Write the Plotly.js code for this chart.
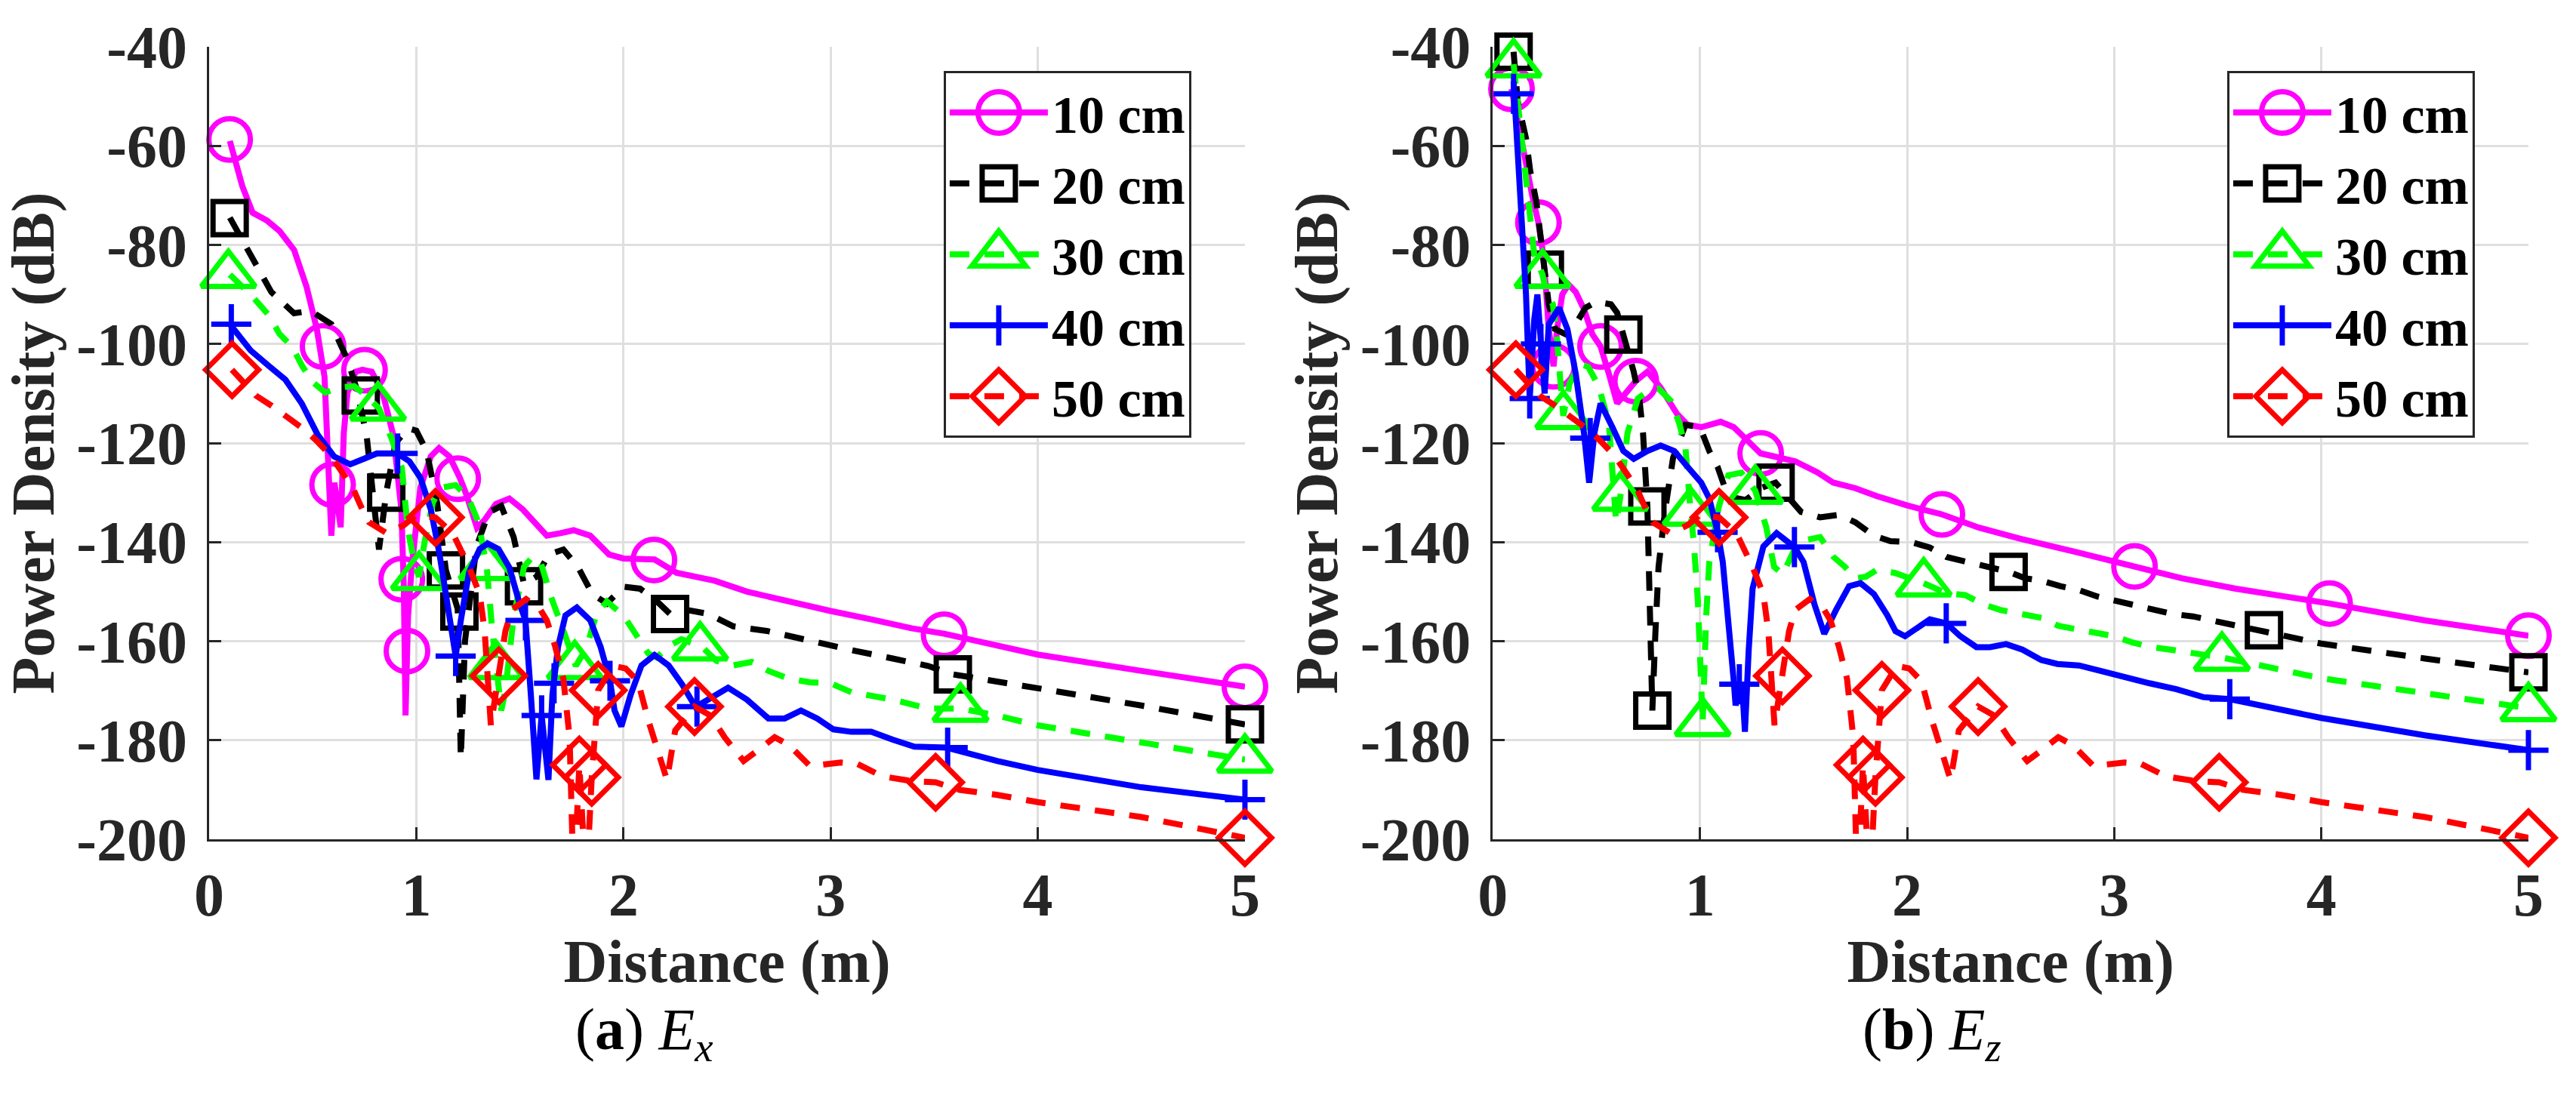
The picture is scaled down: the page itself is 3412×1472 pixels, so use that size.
<!DOCTYPE html>
<html>
<head>
<meta charset="utf-8">
<script src="https://cdn.plot.ly/plotly-3.0.1.min.js"></script>
<style>
  html, body { margin: 0; padding: 0; background: #fff; }
  #chart { width: 3412px; height: 1472px; }
</style>
</head>
<body>
<div id="chart"></div>
<script>
// axis ticks
const xTickVals = [0, 1, 2, 3, 4, 5];
const xTickText = ['0', '1', '2', '3', '4', '5'];
const yTickVals = [-40, -60, -80, -100, -120, -140, -160, -180, -200];
const yTickText = ['-40', '-60', '-80', '-100', '-120', '-140', '-160', '-180', '-200'];
const seriesNames = ['10 cm', '20 cm', '30 cm', '40 cm', '50 cm'];

// (a) Ex : curves as [distance, dB]
const exLine10 = [[0.1,-59],[0.16,-68.1],[0.21,-73.5],[0.28,-75.1],[0.34,-77.2],[0.41,-81],[0.47,-88.4],[0.52,-97],[0.557,-106.6],[0.577,-122.7],[0.59,-138.7],[0.605,-128],[0.635,-137],[0.65,-118],[0.668,-109.8],[0.707,-105.6],[0.74,-105.2],[0.785,-105.6],[0.837,-109.8],[0.889,-118.4],[0.928,-133.4],[0.94,-149.4],[0.948,-175],[0.96,-155],[0.98,-144],[1.02,-129],[1.07,-122.7],[1.11,-121],[1.16,-122.7],[1.21,-127],[1.24,-130.2],[1.293,-137.1],[1.33,-135.5],[1.384,-132.3],[1.449,-131.2],[1.514,-133.4],[1.58,-136.6],[1.63,-138.7],[1.697,-138.2],[1.76,-137.6],[1.84,-138.7],[1.93,-142.5],[2.0,-143.3],[2.15,-143.5],[2.257,-146.2],[2.348,-147],[2.44,-147.8],[2.596,-150],[2.8,-152.1],[3.0,-153.9],[3.196,-155.6],[3.39,-157.4],[3.548,-158.5],[3.806,-160.9],[4.0,-162.7],[4.5,-166],[5.0,-169.2]];
const exMark10 = [[0.099,-58.7],[0.55,-100.5],[0.596,-128.4],[0.75,-105.3],[0.93,-147.5],[0.955,-162],[1.2,-127.2],[2.147,-143.6],[3.548,-158.7],[5,-169.2]];

const exLine20 = [[0.1,-74.5],[0.2,-82],[0.3,-89.5],[0.41,-93.8],[0.49,-93.3],[0.59,-96],[0.67,-103.4],[0.71,-108.8],[0.76,-118.4],[0.79,-130],[0.82,-141.5],[0.855,-130],[0.9,-120],[0.96,-117],[1.0,-117.5],[1.05,-121.6],[1.1,-132],[1.143,-145.7],[1.2,-153.5],[1.215,-183.6],[1.235,-160],[1.29,-141],[1.35,-134],[1.41,-132.7],[1.47,-139],[1.52,-148.5],[1.58,-147],[1.64,-142.5],[1.71,-141.5],[1.78,-145],[1.85,-150.5],[1.92,-152.4],[2.0,-149],[2.08,-149.4],[2.15,-151.5],[2.225,-154.5],[2.32,-153.8],[2.41,-154.5],[2.53,-157],[2.7,-158],[2.9,-160],[3.1,-161.8],[3.3,-163.5],[3.47,-165],[3.59,-166.7],[3.8,-168],[4.0,-169.5],[4.5,-173],[5.0,-176.8]];
const exMark20 = [[0.099,-74.6],[0.732,-110.4],[0.855,-130],[1.143,-145.7],[1.208,-154],[1.52,-148.9],[2.225,-154.5],[3.59,-166.7],[5,-176.8]];

const exLine30 = [[0.1,-86],[0.2,-90],[0.29,-94.3],[0.34,-98],[0.4,-100.5],[0.45,-104.5],[0.5,-107.7],[0.56,-109.8],[0.63,-108.8],[0.7,-108.5],[0.76,-110.5],[0.82,-113],[0.88,-119],[0.93,-125],[0.96,-137.6],[0.99,-144],[1.013,-147],[1.04,-140],[1.08,-132],[1.12,-129],[1.19,-128.5],[1.25,-131],[1.3,-136],[1.34,-145],[1.365,-157],[1.385,-165],[1.41,-174],[1.43,-170],[1.47,-155],[1.52,-145],[1.56,-143],[1.6,-144],[1.65,-151],[1.72,-159],[1.77,-165],[1.82,-161.5],[1.87,-154.5],[1.92,-152],[2.0,-154.8],[2.05,-158],[2.12,-162.5],[2.16,-163.3],[2.22,-161],[2.28,-159.6],[2.38,-161.2],[2.45,-164],[2.53,-164.9],[2.62,-164.2],[2.7,-166],[2.8,-167.6],[2.9,-168.3],[3.0,-168.5],[3.1,-170.3],[3.3,-171.8],[3.47,-173.6],[3.63,-173.6],[3.8,-175],[4.0,-177],[4.5,-180.5],[5.0,-183.9]];
const exMark30 = [[0.093,-86],[0.815,-112.8],[1.013,-147],[1.34,-145],[1.385,-165],[1.765,-165],[2.37,-161.2],[3.627,-173.6],[5,-183.9]];

const exLine40 = [[0.1,-96],[0.2,-101.3],[0.29,-104.5],[0.368,-107.2],[0.447,-112],[0.525,-118.4],[0.603,-122.7],[0.681,-124.3],[0.746,-123.2],[0.81,-122.1],[0.909,-122.1],[0.967,-123.7],[1.02,-127],[1.07,-133.4],[1.11,-141.9],[1.163,-154.8],[1.19,-163],[1.215,-155.8],[1.254,-146.2],[1.306,-141.4],[1.345,-140.3],[1.397,-141.4],[1.449,-145.1],[1.5,-152.6],[1.527,-155.8],[1.553,-170.8],[1.58,-187.9],[1.605,-175],[1.638,-188],[1.657,-170.8],[1.684,-161.2],[1.72,-154.8],[1.775,-153.2],[1.84,-155.8],[1.89,-161.2],[1.935,-168],[1.957,-174],[1.99,-177.2],[2.035,-170.8],[2.087,-164.9],[2.15,-162.8],[2.218,-164.9],[2.283,-168.7],[2.348,-173.3],[2.413,-171.8],[2.505,-169.4],[2.596,-171.8],[2.7,-175.6],[2.778,-175.6],[2.857,-174],[2.935,-175.6],[3.013,-177.8],[3.1,-178.3],[3.196,-178.3],[3.3,-179.9],[3.404,-181.3],[3.56,-181.5],[3.806,-184.2],[4.0,-186],[4.5,-189.5],[5.0,-192]];
const exMark40 = [[0.107,-96],[0.91,-122.1],[1.19,-163],[1.527,-155.8],[1.605,-175],[1.665,-168.5],[1.935,-168],[2.355,-173.2],[3.565,-181.5],[5,-192]];

// 50 cm curve is the same in both panels
const line50 = [[0.11,-105.2],[0.225,-110.4],[0.303,-112.5],[0.375,-114.7],[0.46,-117.3],[0.518,-119.5],[0.59,-122.7],[0.642,-125.9],[0.694,-129.1],[0.733,-132.8],[0.772,-136],[0.857,-138.2],[0.94,-136.6],[1.0,-134.5],[1.092,-135],[1.176,-138.2],[1.215,-141.4],[1.254,-145],[1.306,-150.5],[1.33,-158],[1.36,-177],[1.398,-167],[1.43,-158],[1.46,-153.7],[1.53,-151.5],[1.6,-153.7],[1.63,-155.8],[1.67,-161],[1.71,-167.6],[1.74,-179.4],[1.76,-210],[1.787,-185],[1.82,-210],[1.847,-187.5],[1.878,-169.9],[1.95,-165],[2.01,-165.5],[2.07,-168.1],[2.12,-176],[2.21,-188],[2.25,-178],[2.343,-173.2],[2.42,-175],[2.49,-179.5],[2.58,-184.2],[2.65,-182],[2.73,-179.4],[2.8,-181],[2.9,-185.2],[3.05,-184.5],[3.13,-184.8],[3.25,-187.3],[3.4,-188.3],[3.507,-188.5],[3.62,-190],[3.8,-191],[4.0,-192.5],[4.5,-195.5],[5.0,-199.7]];
const mark50 = [[0.111,-105.2],[1.092,-135],[1.398,-167],[1.787,-185],[1.847,-187.5],[1.878,-169.9],[2.343,-173.2],[3.507,-188.5],[5,-199.7]];

// (b) Ez
const ezLine10 = [[0.09,-48.5],[0.13,-57],[0.16,-64.5],[0.19,-70],[0.22,-75.5],[0.24,-81],[0.255,-88],[0.27,-97],[0.293,-104.5],[0.31,-97],[0.335,-90],[0.365,-88],[0.4,-89.5],[0.44,-93],[0.48,-98],[0.52,-100.5],[0.56,-106],[0.6,-112],[0.64,-110],[0.69,-107.5],[0.746,-105.6],[0.81,-108.8],[0.889,-114.1],[0.94,-116.3],[1.006,-116.8],[1.1,-115.7],[1.163,-116.8],[1.228,-119.5],[1.293,-122.1],[1.358,-122.7],[1.46,-123.7],[1.566,-125.9],[1.644,-128],[1.749,-129.1],[1.853,-130.7],[2.0,-132.6],[2.168,-134.4],[2.348,-137.1],[2.544,-139.3],[2.804,-141.9],[3.0,-143.9],[3.098,-144.9],[3.326,-147.3],[3.587,-149.4],[3.806,-150.8],[4.04,-152.4],[4.5,-155.8],[5.0,-158.9]];
const ezMark10 = [[0.09,-48.5],[0.22,-75.5],[0.293,-104.5],[0.52,-100.5],[0.69,-107.5],[1.293,-122.1],[2.168,-134.4],[3.098,-144.9],[4.04,-152.4],[5,-158.9]];

const ezLine20 = [[0.1,-41],[0.12,-51],[0.16,-58.5],[0.18,-65],[0.21,-71.3],[0.235,-80],[0.251,-85],[0.27,-92],[0.3,-97],[0.35,-98],[0.4,-96],[0.447,-92.7],[0.5,-91.5],[0.57,-92],[0.6,-93.7],[0.63,-98.1],[0.68,-105.6],[0.707,-110.9],[0.725,-118],[0.746,-132.8],[0.76,-152],[0.77,-174],[0.785,-158],[0.8,-145],[0.83,-134],[0.87,-123],[0.93,-116.3],[1.0,-116.8],[1.045,-121.6],[1.085,-124.8],[1.12,-129],[1.16,-131],[1.22,-131.5],[1.3,-129],[1.365,-128],[1.42,-130.5],[1.488,-133.9],[1.58,-135],[1.67,-134.5],[1.75,-136],[1.84,-138.7],[1.92,-139.8],[2.02,-140],[2.11,-141.1],[2.19,-143],[2.28,-143.9],[2.49,-146],[2.57,-147.3],[2.65,-147.8],[2.74,-148.9],[2.83,-149.7],[2.92,-151],[3.01,-151.8],[3.1,-152.6],[3.19,-153.4],[3.28,-154.5],[3.38,-155],[3.47,-155.8],[3.56,-156.4],[3.723,-157.8],[4.0,-160.5],[4.5,-163.5],[5.0,-166.3]];
const ezMark20 = [[0.1,-41],[0.251,-85],[0.63,-98.1],[0.746,-132.8],[0.77,-174],[1.365,-128],[2.49,-146],[3.723,-157.8],[5,-166.3]];

const ezLine30 = [[0.1,-43.5],[0.13,-55],[0.16,-67],[0.2,-82],[0.24,-86],[0.26,-90],[0.29,-92],[0.31,-99],[0.325,-107],[0.34,-114.5],[0.37,-108],[0.42,-104],[0.46,-104.6],[0.51,-108.4],[0.56,-116],[0.595,-136],[0.615,-131],[0.65,-118],[0.7,-111],[0.75,-109.5],[0.8,-109],[0.86,-111.5],[0.9,-116],[0.93,-121],[0.955,-134],[0.97,-140],[0.99,-152],[1.013,-176.5],[1.03,-155],[1.045,-144],[1.09,-133],[1.137,-126.5],[1.2,-126],[1.267,-129.6],[1.32,-137],[1.358,-145],[1.4,-146.5],[1.45,-142],[1.52,-139.5],[1.58,-139],[1.645,-143],[1.7,-145],[1.75,-147.3],[1.8,-147],[1.85,-145.7],[1.94,-146.2],[2.08,-148.3],[2.19,-150.3],[2.28,-150.7],[2.37,-152.6],[2.45,-153.7],[2.56,-154.5],[2.65,-155.3],[2.73,-156.9],[2.82,-157.6],[2.91,-158.5],[3.0,-159],[3.09,-160.3],[3.18,-161.2],[3.27,-161.7],[3.36,-162.2],[3.52,-163.3],[3.65,-164.4],[3.74,-165.2],[4.0,-167.5],[4.5,-170.5],[5.0,-173.5]];
const ezMark30 = [[0.1,-43.5],[0.24,-86],[0.34,-114.5],[0.615,-131],[0.955,-134],[1.013,-176.5],[1.267,-129.6],[2.08,-148.3],[3.52,-163.3],[5,-173.5]];

const ezLine40 = [[0.1,-47],[0.12,-60],[0.14,-75],[0.16,-90],[0.178,-111],[0.2,-95],[0.215,-90],[0.232,-100],[0.25,-110],[0.27,-96],[0.32,-92.7],[0.36,-97],[0.4,-106],[0.44,-118],[0.465,-128],[0.49,-118],[0.52,-112],[0.577,-116.8],[0.63,-121.6],[0.68,-123.2],[0.746,-121.6],[0.81,-120.5],[0.876,-121.6],[0.94,-124.8],[1.006,-128],[1.045,-131.2],[1.085,-138],[1.11,-144],[1.137,-154.8],[1.163,-168],[1.172,-173],[1.19,-168.7],[1.205,-170],[1.217,-178.3],[1.235,-162],[1.254,-149.4],[1.306,-140.9],[1.37,-138.2],[1.456,-141],[1.5,-144],[1.553,-152.6],[1.6,-158.5],[1.657,-153.7],[1.72,-148.9],[1.775,-148.3],[1.84,-150.5],[1.905,-154.8],[1.944,-158],[1.99,-159],[2.05,-157.4],[2.11,-155.6],[2.189,-156.4],[2.257,-159],[2.335,-161.2],[2.4,-161.2],[2.478,-160.6],[2.557,-161.7],[2.648,-163.8],[2.726,-164.6],[2.83,-164.9],[2.935,-166],[3.04,-167.4],[3.17,-168.5],[3.3,-169.7],[3.43,-171.3],[3.558,-171.7],[3.806,-173.8],[4.0,-175.5],[4.5,-179],[5.0,-182]];
const ezMark40 = [[0.1,-49.5],[0.178,-111],[0.232,-100],[0.47,-119],[1.085,-138],[1.19,-168.7],[1.456,-141],[2.189,-156.4],[3.558,-171.7],[5,-182]];

// look of each series, same order as seriesNames
const styles = [
  { color: '#ff00ff', dash: 'solid',      symbol: 'circle-open',      size: 55 },
  { color: '#000000', dash: '26px,20px',  symbol: 'square-open',      size: 44 },
  { color: '#00ff00', dash: '26px,20px',  symbol: 'triangle-up-open', size: 62 },
  { color: '#0000ff', dash: 'solid',      symbol: 'cross-thin-open',  size: 38 },
  { color: '#ff0000', dash: '26px,20px',  symbol: 'diamond-open',     size: 54 }
];
const lineWidth = 8;
const markerEdge = 7;

const serif = 'Liberation Serif, Times New Roman, serif';
const axisFont = { family: serif, size: 80, color: '#262626', weight: 'bold' };

function panelTraces(lines, marks, xa, ya, legendId) {
  const out = [];
  lines.forEach((pts, i) => {
    const st = styles[i];
    const mk = { symbol: st.symbol, size: st.size, color: st.color, line: { color: st.color, width: markerEdge } };
    const ln = { color: st.color, width: lineWidth, dash: st.dash };
    out.push({
      x: pts.map(p => p[0]), y: pts.map(p => p[1]), xaxis: xa, yaxis: ya,
      mode: 'lines', line: ln, showlegend: false
    });
    out.push({
      x: marks[i].map(p => p[0]), y: marks[i].map(p => p[1]), xaxis: xa, yaxis: ya,
      mode: 'markers', marker: mk, cliponaxis: false, showlegend: false
    });
    // legend entry only
    out.push({
      x: [null], y: [null], xaxis: xa, yaxis: ya, mode: 'lines+markers',
      name: seriesNames[i], legend: legendId, line: ln, marker: mk
    });
  });
  return out;
}

const traces = [].concat(
  panelTraces([exLine10, exLine20, exLine30, exLine40, line50],
              [exMark10, exMark20, exMark30, exMark40, mark50], 'x', 'y', 'legend'),
  panelTraces([ezLine10, ezLine20, ezLine30, ezLine40, line50],
              [ezMark10, ezMark20, ezMark30, ezMark40, mark50], 'x2', 'y2', 'legend2')
);

function xAxis(domain, anchor) {
  return {
    domain: domain, anchor: anchor, range: [0, 5],
    tickvals: xTickVals, ticktext: xTickText, tickfont: axisFont,
    ticks: 'inside', ticklen: 16, tickwidth: 3, tickcolor: '#262626',
    ticklabelstandoff: 2,
    showline: true, linecolor: '#262626', linewidth: 3, mirror: false,
    showgrid: true, gridcolor: '#dfdfdf', gridwidth: 3, zeroline: false,
    title: { text: 'Distance (m)', font: axisFont, standoff: 0 }
  };
}
function yAxis(anchor) {
  return {
    domain: [0, 1], anchor: anchor, range: [-200, -40],
    tickvals: yTickVals, ticktext: yTickText, tickfont: axisFont,
    ticks: 'inside', ticklen: 16, tickwidth: 3, tickcolor: '#262626',
    ticklabelstandoff: 10,
    showline: true, linecolor: '#262626', linewidth: 3, mirror: false,
    showgrid: true, gridcolor: '#dfdfdf', gridwidth: 3, zeroline: false,
    title: { text: 'Power Density (dB)', font: axisFont, standoff: 4 }
  };
}
function legendBox(x) {
  return {
    x: x, y: 0.9695, xanchor: 'left', yanchor: 'top',
    bgcolor: '#ffffff', bordercolor: '#262626', borderwidth: 3,
    font: { family: serif, size: 70, color: '#000000', weight: 'bold' },
    itemwidth: 130, tracegroupgap: 0
  };
}

const layout = {
  width: 3412, height: 1472,
  margin: { l: 277, r: 63, t: 62, b: 360 },
  paper_bgcolor: '#ffffff', plot_bgcolor: '#ffffff',
  xaxis: xAxis([0, 0.4466], 'y'),
  yaxis: yAxis('x'),
  xaxis2: xAxis([0.5535, 1], 'y2'),
  yaxis2: yAxis('x2'),
  legend: legendBox(0.3167),
  legend2: legendBox(0.8701),
  annotations: [
    { xref: 'paper', yref: 'paper', x: 0.1875, y: -0.2444, xanchor: 'center', yanchor: 'middle',
      text: '(<b>a</b>) <i>E<sub>x</sub></i>', showarrow: false,
      font: { family: serif, size: 78, color: '#000000' } },
    { xref: 'paper', yref: 'paper', x: 0.7428, y: -0.2444, xanchor: 'center', yanchor: 'middle',
      text: '(<b>b</b>) <i>E<sub>z</sub></i>', showarrow: false,
      font: { family: serif, size: 78, color: '#000000' } }
  ]
};

Plotly.newPlot('chart', traces, layout, { staticPlot: true }).then(gd => {
  // plotly caps legend symbols at 16px; blow them up to the plotted marker size
  gd.querySelectorAll('.legendpoints path.scatterpts').forEach(p => {
    const item = p.closest('.traces');
    const d = item && item.__data__;
    const tr = d && d[0] && d[0].trace;
    if (!tr || !tr.marker) return;
    const k = tr.marker.size / 16;
    p.setAttribute('transform', (p.getAttribute('transform') || '') + ' scale(' + k + ')');
    p.style.vectorEffect = 'non-scaling-stroke';
    p.style.strokeWidth = markerEdge + 'px';
  });
});
</script>
</body>
</html>
